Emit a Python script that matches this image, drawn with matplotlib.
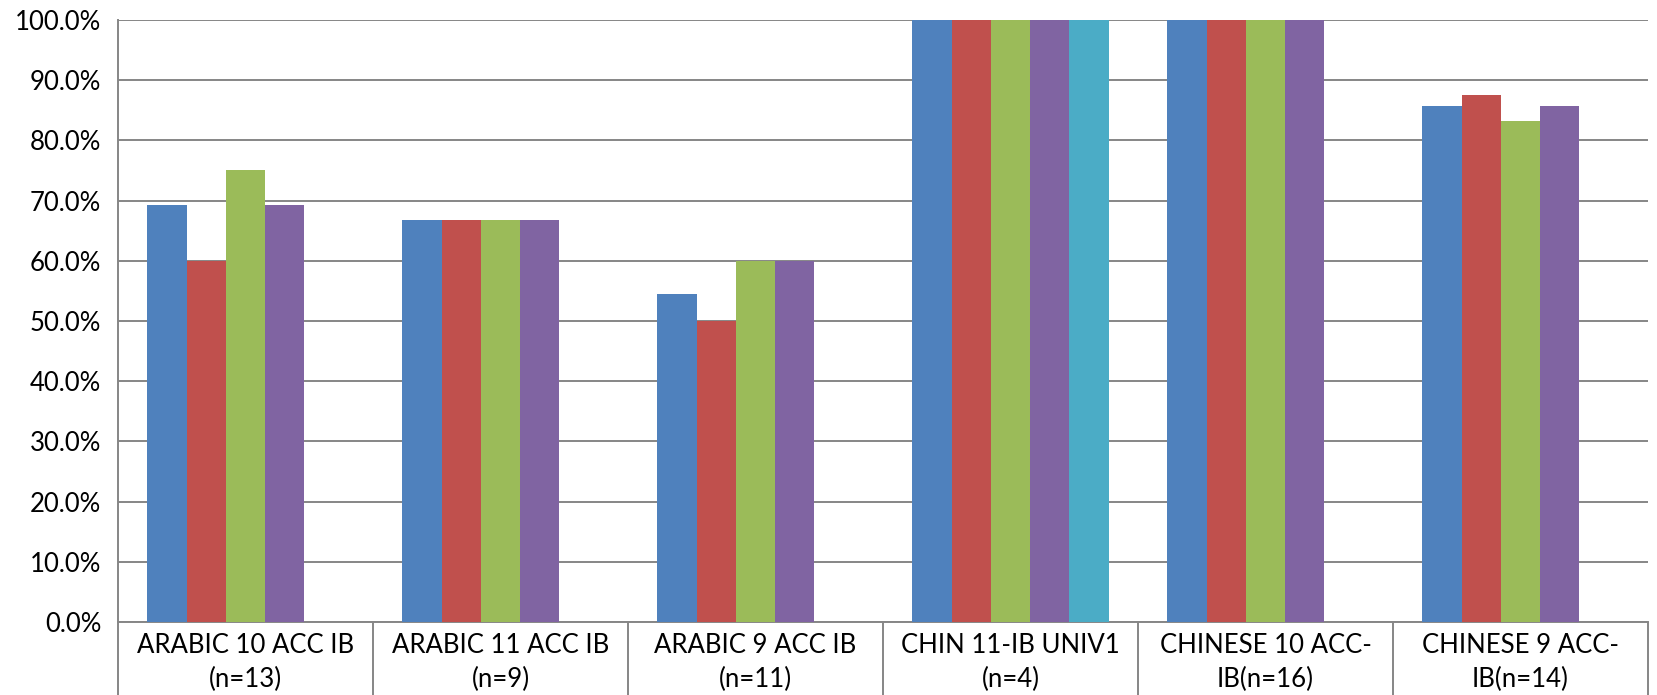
import numpy as np
import matplotlib
matplotlib.use('Agg')
import matplotlib.pyplot as plt
from matplotlib.ticker import FixedLocator, FuncFormatter

plt.rcParams['font.family'] = ['Lato', 'DejaVu Sans']

categories = ['ARABIC 10 ACC IB\n(n=13)', 'ARABIC 11 ACC IB\n(n=9)', 'ARABIC 9 ACC IB\n(n=11)',
              'CHIN 11-IB UNIV1\n(n=4)', 'CHINESE 10 ACC-\nIB(n=16)', 'CHINESE 9 ACC-\nIB(n=14)']

# percentages per series, nan where the series has no bar
series_1 = [69.2, 66.7, 54.5, 100.0, 100.0, 85.7]
series_2 = [60.0, 66.7, 50.0, 100.0, 100.0, 87.5]
series_3 = [75.0, 66.7, 60.0, 100.0, 100.0, 83.3]
series_4 = [69.2, 66.7, 60.0, 100.0, 100.0, 85.7]
series_5 = [np.nan, np.nan, np.nan, 100.0, np.nan, np.nan]

colors = ['#4F81BD', '#C0504D', '#9BBB59', '#8064A2', '#4BACC6']
GRID = '#868686'

fig = plt.figure(figsize=(16.58, 6.95), dpi=100)
ax = fig.add_axes([118 / 1658, 73 / 695, 1530 / 1658, 602 / 695])

x = np.arange(len(categories))
w = 1 / 6.5
for k, vals in enumerate([series_1, series_2, series_3, series_4, series_5]):
    ax.bar(x + (k - 2) * w, vals, width=w, color=colors[k], linewidth=0, zorder=3)

ax.set_xlim(-0.5, len(categories) - 0.5)
ax.set_ylim(0, 100)
ax.set_yticks(np.arange(0, 101, 10))
ax.yaxis.set_major_formatter(FuncFormatter(lambda v, p: f'{v:.1f}%'))
ax.yaxis.grid(True, color=GRID, linewidth=1.4, zorder=0)
ax.tick_params(axis='y', length=0, pad=12, labelsize=18.5, labelcolor='#000000')

# category "table": boundary ticks hang below the axis, labels sit on minor ticks
ax.xaxis.set_major_locator(FixedLocator(np.arange(-0.5, len(categories), 1)))
ax.xaxis.set_major_formatter(FuncFormatter(lambda v, p: ''))
ax.xaxis.set_minor_locator(FixedLocator(x))
ax.set_xticklabels(categories, minor=True, linespacing=1.45)
ax.tick_params(axis='x', which='major', length=53, width=1.4, color=GRID, direction='out')
ax.tick_params(axis='x', which='minor', length=0, pad=8, labelsize=18.5)

for s in ['top', 'right']:
    ax.spines[s].set_visible(False)
for s in ['left', 'bottom']:
    ax.spines[s].set_color(GRID)
    ax.spines[s].set_linewidth(1.4)
ax.set_axisbelow(True)

plt.savefig('out.png', dpi=100)
